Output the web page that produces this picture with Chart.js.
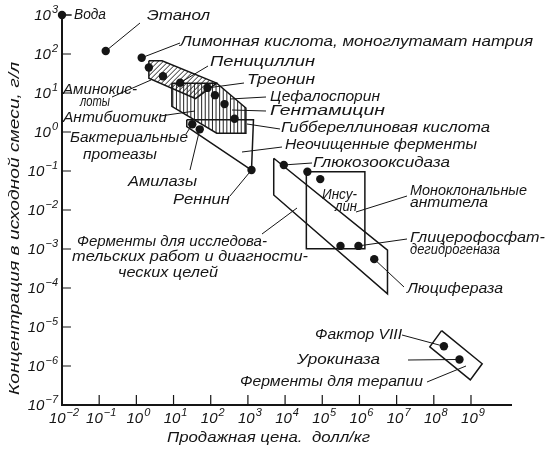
<!DOCTYPE html>
<html><head><meta charset="utf-8">
<script src="https://cdn.jsdelivr.net/npm/chart.js@4/dist/chart.umd.min.js"></script>
<style>html,body{margin:0;padding:0;background:#fff}#wrap{width:548px;height:450px}</style>
</head><body><div id="wrap"><canvas id="c" width="548" height="450"></canvas></div>
<script>
// ---- data (price, $/kg ; concentration, g/l) ----
const dotPrice = [0.01, 0.15, 1.39, 2.17, 5.2, 15.1, 81.6, 130, 235, 437, 31.9, 50.7, 1250, 9250, 39800, 88300, 309000, 940000, 2.5e6, 1.87e8, 4.9e8];
const dotConc  = [1000, 119, 80, 45, 27, 18.4, 13.5, 8.8, 5.2, 2.18, 1.58, 1.17, 0.106, 0.143, 0.096, 0.062, 0.0012, 0.0012, 0.00055, 3.2e-6, 1.47e-6];

const aminoPrice = [2.17, 4.9, 145, 39, 2.17, 2.17];
const aminoConc  = [67, 67, 17.9, 7.2, 23.9, 67];
const antibPrice = [9.0, 145, 883, 883, 145, 9.0, 9.0];
const antibConc  = [17.9, 17.9, 4.13, 0.93, 0.93, 4.54, 17.9];
const crudePrice = [22.7, 1412, 1250, 22.7, 22.7];
const crudeConc  = [2.05, 2.05, 0.106, 1.37, 2.05];
const researchPrice = [4950, 5.68e6, 5.68e6, 4950, 4950];
const researchConc  = [0.212, 0.00093, 7.1e-5, 0.0243, 0.212];
const insulinPrice = [37300, 1.4e6, 1.4e6, 37300, 37300];
const insulinConc  = [0.096, 0.096, 0.00102, 0.00102, 0.096];
const therapyPrice = [1.62e8, 2.0e9, 9.6e8, 7.8e7, 1.62e8];
const therapyConc  = [8.1e-6, 1.14e-6, 4.4e-7, 3.1e-6, 8.1e-6];

const xTickPowers = [-2, -1, 0, 1, 2, 3, 4, 5, 6, 7, 8, 9];
const yTickPowers = [3, 2, 1, 0, -1, -2, -3, -4, -5, -6, -7];

// ---- annotation layout (text, left, right, y) ----
const labels = [
 ["Вода",74,106,15],
 ["Этанол",147,210,16],
 ["Лимонная кислота, моноглутамат натрия",180,533,42],
 ["Пенициллин",210,315,62],
 ["Треонин",247,315,80],
 ["Цефалоспорин",270,380,97],
 ["Гентамицин",270,385,111],
 ["Гиббереллиновая кислота",281,490,128],
 ["Неочищенные ферменты",285,477,145],
 ["Глюкозооксидаза",313,450,163],
 ["Инсу-",322,357,195],
 ["лин",335,357,207],
 ["Моноклональные",410,527,191],
 ["антитела",410,488,203],
 ["Ферменты для исследова-",77,267,242],
 ["тельских работ и диагности-",72,308,257],
 ["ческих целей",118,218,273],
 ["Глицерофосфат-",410,545,238],
 ["дегидрогеназа",410,500,250],
 ["Люцифераза",407,503,289],
 ["Аминокис-",63,137,90],
 ["лоты",80,110,102],
 ["Антибиотики",63,167,118],
 ["Бактериальные",70,188,138],
 ["протеазы",83,157,155],
 ["Амилазы",128,197,182],
 ["Реннин",173,230,200],
 ["Фактор VIII",315,402,335],
 ["Урокиназа",297,380,360],
 ["Ферменты для терапии",240,423,382]
];
const leaders = [
 {a:[72,15], dot:0},{a:[140,23], dot:1},{a:[180,43], dot:2},{a:[208,66], dot:5},
 {a:[244,83], dot:6},{a:[266,97], b:[230,99]},{a:[266,111], b:[232,110]},
 {a:[247,124], b:[280,129]},{a:[242,152], b:[282,147]},{a:[312,163], dot:13},
 {a:[407,196], b:[356,212]},{a:[262,234], b:[297,208]},{a:[407,239], dot:17},
 {a:[404,287], dot:18},{a:[112,97], b:[151,80]},{a:[160,116], b:[195,111]},
 {a:[186,134], dot:10},{a:[190,170], dot:11},{a:[230,196], dot:12},
 {a:[402,335], dot:19},{a:[408,360], dot:20},{a:[427,382], b:[466,366]}
];

const INK = '#151515';
const FONT = '"Liberation Sans", "DejaVu Sans", sans-serif';
function pts(xs, ys){ return xs.map((x,i)=>({x:x, y:ys[i]})); }
function poly(xs, ys, hatch){
  return {data: pts(xs,ys), showLine:true, pointRadius:0, borderColor:INK, borderWidth:1.5,
          backgroundColor:'transparent', fill:false, tension:0, clip:false, hatch:hatch};
}

function fitText(ctx, text, x0, x1, y, size){
  ctx.font = 'italic ' + size + 'px ' + FONT;
  const w = ctx.measureText(text).width;
  const sx = Math.max(0.6, Math.min(1.6, (x1 - x0) / w));
  ctx.save(); ctx.translate(x0, y); ctx.scale(sx, 1);
  ctx.textBaseline = 'middle'; ctx.textAlign = 'left'; ctx.fillStyle = INK;
  ctx.fillText(text, 0, 0); ctx.restore();
}
function powLabel(ctx, p, x, y, align){
  const base = '10', ex = (p < 0 ? '\u2212' : '') + Math.abs(p);
  ctx.font = 'italic 15px ' + FONT; const wb = ctx.measureText(base).width;
  ctx.font = 'italic 11px ' + FONT; const we = ctx.measureText(ex).width;
  const tot = wb + we + 1;
  let x0 = align === 'center' ? x - tot/2 : x - tot;
  ctx.fillStyle = INK; ctx.textBaseline = 'middle'; ctx.textAlign = 'left';
  ctx.font = 'italic 15px ' + FONT; ctx.fillText(base, x0, y);
  ctx.font = 'italic 11px ' + FONT; ctx.fillText(ex, x0 + wb + 1, y - 6);
}

const hatchPlugin = {
  id:'hatch',
  beforeDatasetsDraw(chart){
    const ctx = chart.ctx;
    chart.data.datasets.forEach((ds, i) => {
      if (!ds.hatch) return;
      const el = chart.getDatasetMeta(i).data;
      ctx.save();
      ctx.beginPath();
      el.forEach((p, k) => k ? ctx.lineTo(p.x, p.y) : ctx.moveTo(p.x, p.y));
      ctx.closePath(); ctx.clip();
      const xs = el.map(p=>p.x), ys = el.map(p=>p.y);
      const x0 = Math.min(...xs), x1 = Math.max(...xs), y0 = Math.min(...ys), y1 = Math.max(...ys);
      ctx.strokeStyle = '#222'; ctx.lineWidth = 1; ctx.beginPath();
      if (ds.hatch === 'vert') {
        for (let x = x0 + 1; x < x1; x += 3.6) { ctx.moveTo(x, y0); ctx.lineTo(x, y1); }
      } else {
        const h = y1 - y0;
        for (let t = x0 - h; t < x1; t += 5) { ctx.moveTo(t, y1); ctx.lineTo(t + h, y0); }
      }
      ctx.stroke(); ctx.restore();
    });
  },
  afterDatasetsDraw(chart){
    const ctx = chart.ctx, xs = chart.scales.x, ys = chart.scales.y, a = chart.chartArea;
    ctx.save();
    // axes
    ctx.strokeStyle = INK; ctx.lineWidth = 2; ctx.beginPath();
    ctx.moveTo(a.left, a.top - 1); ctx.lineTo(a.left, a.bottom); ctx.lineTo(a.right, a.bottom); ctx.stroke();
    // ticks
    ctx.lineWidth = 1.2; ctx.beginPath();
    xTickPowers.forEach(p => { const x = xs.getPixelForValue(Math.pow(10,p)); if (p > -2) { ctx.moveTo(x, a.bottom); ctx.lineTo(x, a.bottom - 10); } });
    yTickPowers.forEach(p => { const y = ys.getPixelForValue(Math.pow(10,p)); if (p > -7) { ctx.moveTo(a.left, y); ctx.lineTo(a.left + 9, y); } });
    ctx.stroke();
    xTickPowers.forEach(p => powLabel(ctx, p, xs.getPixelForValue(Math.pow(10,p)) + 2, a.bottom + 14, 'center'));
    yTickPowers.forEach(p => powLabel(ctx, p, a.left - 4, ys.getPixelForValue(Math.pow(10,p)) + 1, 'right'));
    // leaders
    ctx.strokeStyle = INK; ctx.lineWidth = 1; ctx.beginPath();
    leaders.forEach(l => {
      let bx, by;
      if (l.dot !== undefined) {
        const dx = xs.getPixelForValue(dotPrice[l.dot]), dy = ys.getPixelForValue(dotConc[l.dot]);
        const vx = l.a[0] - dx, vy = l.a[1] - dy, d = Math.hypot(vx, vy) || 1;
        bx = dx + vx / d * 3; by = dy + vy / d * 3;
      } else { bx = l.b[0]; by = l.b[1]; }
      ctx.moveTo(l.a[0], l.a[1]); ctx.lineTo(bx, by);
    });
    ctx.stroke();
    labels.forEach(t => fitText(ctx, t[0], t[1], t[2], t[3], 14));
    // axis titles
    fitText(ctx, 'Продажная цена.  долл/кг', 167, 370, 438, 15);
    ctx.save(); ctx.translate(15, 395); ctx.rotate(-Math.PI/2);
    fitText(ctx, 'Концентрация в исходной смеси, г/л', 0, 333, 0, 15);
    ctx.restore();
    ctx.restore();
  }
};

new Chart(document.getElementById('c'), {
  type:'scatter',
  data:{ datasets:[
    {data: pts(dotPrice, dotConc), pointRadius:4.2, pointBackgroundColor:INK, pointBorderWidth:0, showLine:false, clip:false},
    poly(aminoPrice, aminoConc, 'diag'),
    poly(antibPrice, antibConc, 'vert'),
    poly(crudePrice, crudeConc, null),
    poly(researchPrice, researchConc, null),
    poly(insulinPrice, insulinConc, null),
    poly(therapyPrice, therapyConc, null)
  ]},
  options:{
    responsive:false, animation:false, devicePixelRatio:1,
    layout:{padding:{top:15, right:36, left:0, bottom:0}},
    plugins:{legend:{display:false}, tooltip:{enabled:false}},
    scales:{
      x:{type:'logarithmic', position:'bottom', min:0.01, max:Math.pow(10,10.103),
         grid:{display:false, drawTicks:false}, border:{display:false}, ticks:{display:false},
         afterFit(s){ s.height = 45; }},
      y:{type:'logarithmic', position:'left', min:1e-7, max:1000,
         grid:{display:false, drawTicks:false}, border:{display:false}, ticks:{display:false},
         afterFit(s){ s.width = 62; }}
    }
  },
  plugins:[hatchPlugin]
});
</script></body></html>
